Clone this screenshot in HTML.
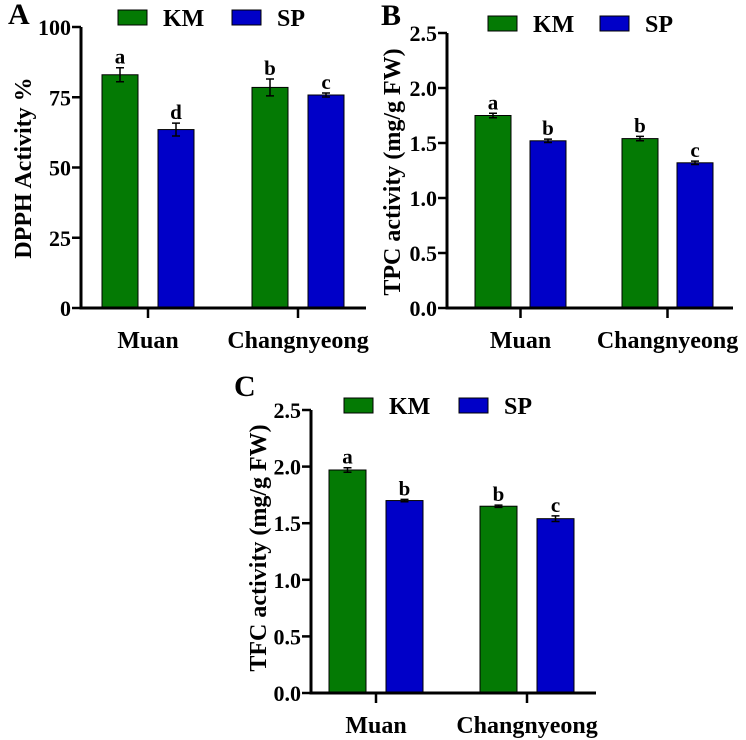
<!DOCTYPE html>
<html><head><meta charset="utf-8"><style>
html,body{margin:0;padding:0;background:#fff}
svg{display:block}
svg text{font-family:"Liberation Serif","Times New Roman","DejaVu Serif",serif;font-weight:bold;fill:#000}
</style></head><body>
<svg id="fig" width="746" height="740" viewBox="0 0 746 740"></svg>
<script>
const groups = ["Muan", "Changnyeong"];
const seriesNames = ["KM", "SP"];
const dpphKM = [83.0, 78.5];
const dpphSP = [63.5, 75.8];
const dpphErrKM = [2.5, 3.0];
const dpphErrSP = [2.3, 0.7];
const dpphLettersKM = ["a", "b"];
const dpphLettersSP = ["d", "c"];
const dpphTicks = ["0", "25", "50", "75", "100"];
const tpcKM = [1.75, 1.54];
const tpcSP = [1.52, 1.32];
const tpcErrKM = [0.02, 0.02];
const tpcErrSP = [0.015, 0.015];
const tpcLettersKM = ["a", "b"];
const tpcLettersSP = ["b", "c"];
const tfcKM = [1.97, 1.65];
const tfcSP = [1.70, 1.54];
const tfcErrKM = [0.02, 0.01];
const tfcErrSP = [0.01, 0.025];
const tfcLettersKM = ["a", "b"];
const tfcLettersSP = ["b", "c"];
const concTicks = ["0.0", "0.5", "1.0", "1.5", "2.0", "2.5"];

const NS = "http://www.w3.org/2000/svg";
const svg = document.getElementById("fig");
const colors = ["#047a04", "#0000c8"];
const FF = '"Liberation Serif", "Times New Roman", "DejaVu Serif", serif';
function mk(tag, attrs, parent) {
  const e = document.createElementNS(NS, tag);
  for (const k in attrs) e.setAttribute(k, attrs[k]);
  if (tag === "text") { e.setAttribute("font-family", FF); e.setAttribute("font-weight", "bold"); }
  (parent || svg).appendChild(e);
  return e;
}
function panel(cfg) {
  const g = mk("g", {});
  
  
  const ymax = parseFloat(cfg.ticks[cfg.ticks.length - 1]);
  const y = v => cfg.y0 - (v / ymax) * (cfg.y0 - cfg.yTop);
  const vals = [cfg.km, cfg.sp], errs = [cfg.ekm, cfg.esp], lets = [cfg.lkm, cfg.lsp];
  for (let gi = 0; gi < groups.length; gi++) {
    for (let s = 0; s < 2; s++) {
      const x = cfg.barX[gi] + s * cfg.step;
      const v = vals[s][gi], e = errs[s][gi];
      const r = mk("rect", {x: x, y: y(v), width: cfg.bw, height: cfg.y0 - y(v), fill: colors[s], stroke: "#000", "stroke-width": 1}, g);
      
      
      const cx = x + cfg.bw / 2;
      const eb = mk("path", {d: `M${cx},${y(v + e)}V${y(v - e)}M${cx - 4},${y(v + e)}H${cx + 4}M${cx - 4},${y(v - e)}H${cx + 4}`, stroke: "#000", "stroke-width": 1.5, fill: "none"}, g);
      
      
      const t = mk("text", {x: cx, y: y(v + e) - 4, "text-anchor": "middle", "font-size": 21}, g);
      t.textContent = lets[s][gi];
      
      
    }
    const gx = cfg.barX[gi] + (cfg.step + cfg.bw) / 2;
    mk("line", {x1: gx, x2: gx, y1: cfg.y0, y2: cfg.y0 + 10, stroke: "#000", "stroke-width": 2.5}, g);
    const gl = mk("text", {x: gx, y: cfg.y0 + 40, "text-anchor": "middle", "font-size": 24}, g);
    gl.textContent = groups[gi];
    
    
  }
  const ax = mk("path", {d: `M${cfg.ax},${cfg.yTop}V${cfg.y0}H${cfg.xEnd}`, stroke: "#000", "stroke-width": 3, fill: "none"}, g);
  
  
  cfg.ticks.forEach(tk => {
    const yy = y(parseFloat(tk));
    mk("line", {x1: cfg.ax - 9, x2: cfg.ax, y1: yy, y2: yy, stroke: "#000", "stroke-width": 2.5}, g);
    const t = mk("text", {x: cfg.ax - 10, y: yy + 8, "text-anchor": "end", "font-size": 22}, g);
    t.textContent = tk;
    
    
  });
  const yt = mk("text", {x: 0, y: 0, transform: `translate(${cfg.ylx},${cfg.yly}) rotate(-90)`, "text-anchor": "middle", "font-size": 24}, g);
  yt.textContent = cfg.ytitle;
  
  
  const pl = mk("text", {x: cfg.plx, y: cfg.ply, "font-size": 30}, g);
  pl.textContent = cfg.letter;
  
  
  for (let s = 0; s < 2; s++) {
    const lx = cfg.legX[s];
    const lr = mk("rect", {x: lx, y: cfg.legY, width: 29, height: 15, fill: colors[s], stroke: "#000", "stroke-width": 1}, g);
    
    
    const lt = mk("text", {x: lx + 45, y: cfg.legY + 16, "font-size": 24}, g);
    lt.textContent = seriesNames[s];
    
    
  }
}
panel({id: "panel-a-dpph", km: dpphKM, sp: dpphSP, ekm: dpphErrKM, esp: dpphErrSP, lkm: dpphLettersKM, lsp: dpphLettersSP,
  ticks: dpphTicks, ax: 81, y0: 308, yTop: 27, xEnd: 366, barX: [102, 252], step: 56, bw: 36,
  ytitle: "DPPH Activity %", ylx: 31, yly: 168, letter: "A", plx: 8, ply: 24, legX: [118, 232], legY: 10});
panel({id: "panel-b-tpc", km: tpcKM, sp: tpcSP, ekm: tpcErrKM, esp: tpcErrSP, lkm: tpcLettersKM, lsp: tpcLettersSP,
  ticks: concTicks, ax: 447, y0: 308, yTop: 33, xEnd: 733, barX: [475, 622], step: 55, bw: 36,
  ytitle: "TPC activity (mg/g FW)", ylx: 400, yly: 172, letter: "B", plx: 381, ply: 25, legX: [488, 600], legY: 16});
panel({id: "panel-c-tfc", km: tfcKM, sp: tfcSP, ekm: tfcErrKM, esp: tfcErrSP, lkm: tfcLettersKM, lsp: tfcLettersSP,
  ticks: concTicks, ax: 311, y0: 693, yTop: 410, xEnd: 596, barX: [329, 480], step: 57, bw: 37,
  ytitle: "TFC activity (mg/g FW)", ylx: 266, yly: 548, letter: "C", plx: 234, ply: 396, legX: [344, 459], legY: 398});
</script>
</body></html>
